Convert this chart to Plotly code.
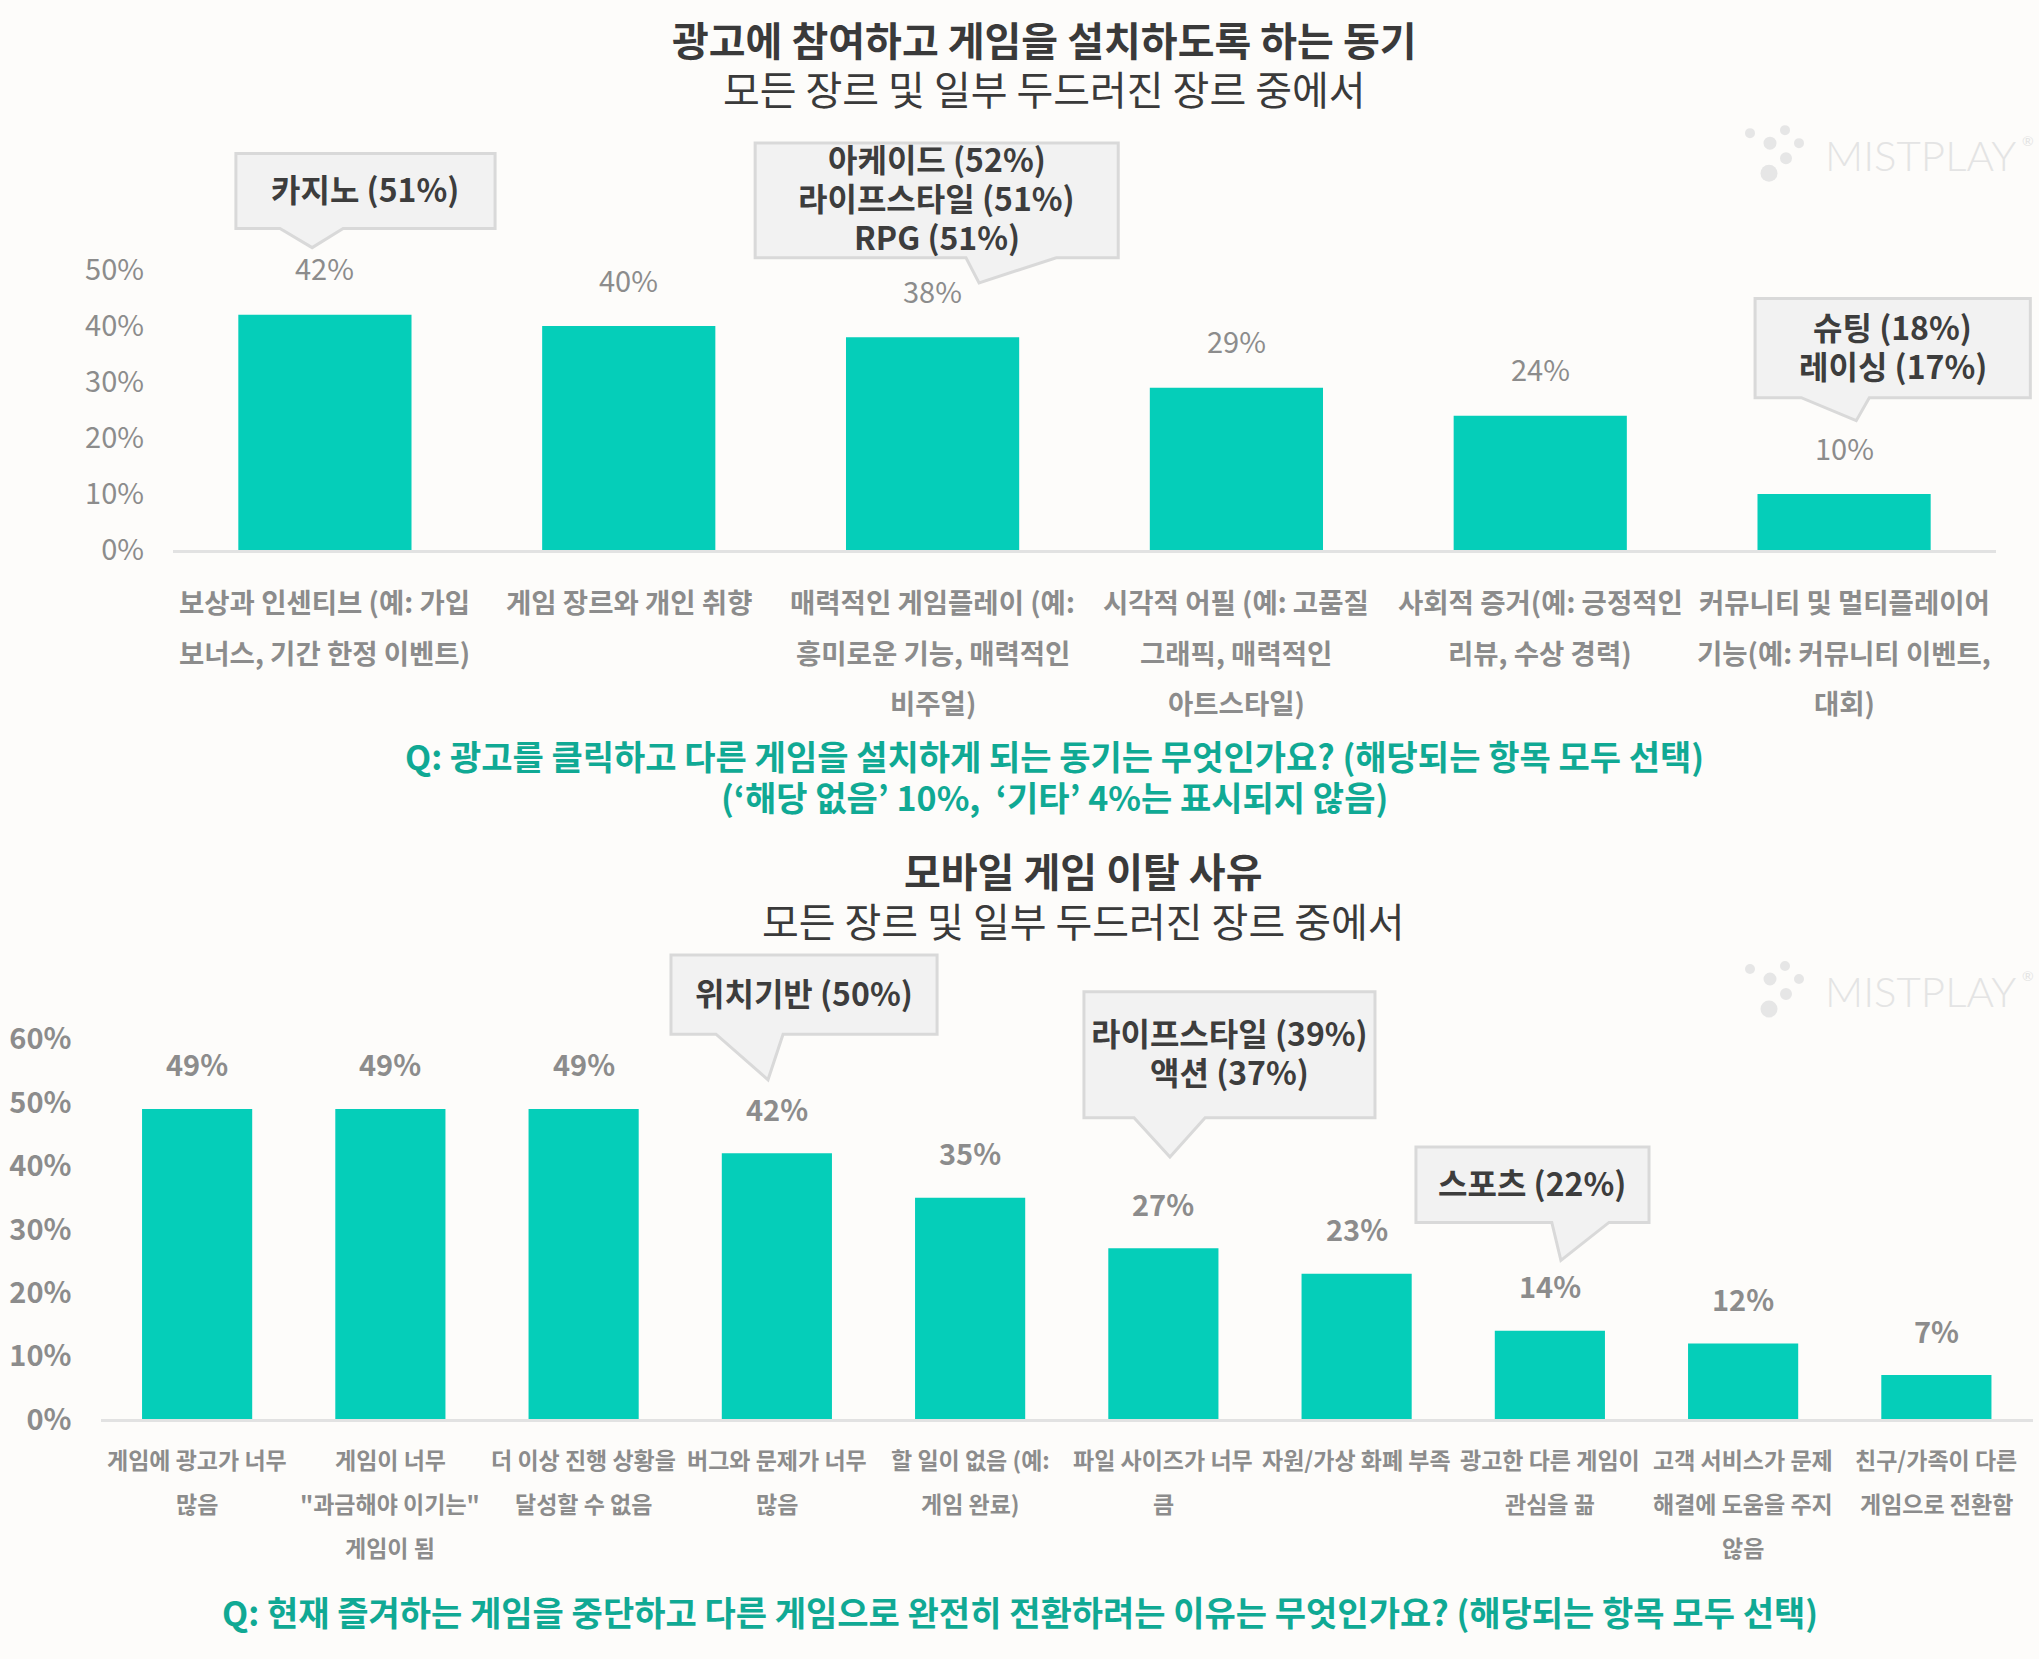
import plotly.graph_objects as go

# ---------------- data ----------------
top_categories = [
    "보상과 인센티브 (예: 가입<br>보너스, 기간 한정 이벤트)",
    "게임 장르와 개인 취향",
    "매력적인 게임플레이 (예:<br>흥미로운 기능, 매력적인<br>비주얼)",
    "시각적 어필 (예: 고품질<br>그래픽, 매력적인<br>아트스타일)",
    "사회적 증거(예: 긍정적인<br>리뷰, 수상 경력)",
    "커뮤니티 및 멀티플레이어<br>기능(예: 커뮤니티 이벤트,<br>대회)",
]
top_values = [42, 40, 38, 29, 24, 10]
top_ticks = [0, 10, 20, 30, 40, 50]
top_title = "광고에 참여하고 게임을 설치하도록 하는 동기"
top_subtitle = "모든 장르 및 일부 두드러진 장르 중에서"
top_question = ["Q: 광고를 클릭하고 다른 게임을 설치하게 되는 동기는 무엇인가요? (해당되는 항목 모두 선택)",
                "(‘해당 없음’ 10%,\u00a0 ‘기타’ 4%는 표시되지 않음)"]
top_callout_texts = [["카지노 (51%)"],
                     ["아케이드 (52%)", "라이프스타일 (51%)", "RPG (51%)"],
                     ["슈팅 (18%)", "레이싱 (17%)"]]

bottom_categories = [
    "게임에 광고가 너무<br>많음",
    "게임이 너무<br>\"과금해야 이기는\"<br>게임이 됨",
    "더 이상 진행 상황을<br>달성할 수 없음",
    "버그와 문제가 너무<br>많음",
    "할 일이 없음 (예:<br>게임 완료)",
    "파일 사이즈가 너무<br>큼",
    "자원/가상 화폐 부족",
    "광고한 다른 게임이<br>관심을 끎",
    "고객 서비스가 문제<br>해결에 도움을 주지<br>않음",
    "친구/가족이 다른<br>게임으로 전환함",
]
bottom_values = [49, 49, 49, 42, 35, 27, 23, 14, 12, 7]
bottom_ticks = [0, 10, 20, 30, 40, 50, 60]
bottom_title = "모바일 게임 이탈 사유"
bottom_subtitle = "모든 장르 및 일부 두드러진 장르 중에서"
bottom_question = ["Q: 현재 즐겨하는 게임을 중단하고 다른 게임으로 완전히 전환하려는 이유는 무엇인가요? (해당되는 항목 모두 선택)"]
bottom_callout_texts = [["위치기반 (50%)"],
                        ["라이프스타일 (39%)", "액션 (37%)"],
                        ["스포츠 (22%)"]]

# ---------------- layout constants ----------------
W, H = 2039, 1659
SY = 1.012       # vertical compensation for the capture
TEXT_DY = 3      # lift glyphs so their visual centre hits the target
FONT = "Noto Sans CJK KR"
BAR = "#05CEB9"
TEAL_TEXT = "#10A994"
GRAY = "#8c8c8c"
DARK = "#3a3a3a"
BG = "#fdfcfa"

top_panel = dict(X0=173, X1=1996, Y0=549.5, PPU=5.595, YMAX=60, n=len(top_categories),
                 xa="x", ya="y", lab1=53.5, labstep=50, labsize=27.5, valshift=44,
                 valweight="normal", tickweight="normal", title_xy=(1044, 42), sub_xy=(1044, 91),
                 q_y=758, q_x=1054, q_step=41, logo_dy=0)
bottom_panel = dict(X0=100.5, X1=2033, Y0=1418, PPU=6.33, YMAX=64, n=len(bottom_categories),
                    xa="x2", ya="y2", lab1=42, labstep=43.5, labsize=23, valshift=42,
                    valweight="bold", tickweight="bold", title_xy=(1083, 872), sub_xy=(1083, 922),
                    q_y=1613, q_x=1020, q_step=41, logo_dy=835)

# callout geometry in data units: box (x0, x1, ytop, ybottom), pointer (base left, base right, tip x, tip y)
top_callout_geom = [
    ((-0.293, 0.560, 70.8, 57.4), (-0.148, 0.060, -0.042, 54.0)),
    ((1.416, 2.611, 72.7, 52.2), (2.110, 2.407, 2.153, 47.7)),
    ((4.707, 5.613, 44.9, 27.2), (4.859, 5.083, 5.040, 23.1)),
]
bottom_callout_geom = [
    ((2.452, 3.829, 73.3, 60.8), (2.685, 3.032, 2.954, 53.6)),
    ((4.589, 6.095, 67.5, 47.6), (4.848, 5.216, 5.034, 41.4)),
    ((6.307, 7.513, 43.0, 31.1), (7.010, 7.306, 7.057, 25.1)),
]
CALLOUT_LINE = 39


def py2paper(ypix):
    return (H - ypix * SY) / H


def to_paper(p, xd, yd):
    xpix = p["X0"] + (xd + 0.5) * (p["X1"] - p["X0"]) / p["n"]
    ypix = p["Y0"] - yd * p["PPU"]
    return xpix / W, py2paper(ypix)


fig = go.Figure()
annotations = []
shapes = []


def build(p, cats, vals, ticks, title, subtitle, question, ctexts, cgeom):
    fig.add_trace(go.Bar(x=cats, y=vals, width=0.57, marker=dict(color=BAR, line=dict(width=0)),
                         xaxis=p["xa"], yaxis=p["ya"], hoverinfo="skip"))
    # value labels
    for c, v in zip(cats, vals):
        annotations.append(dict(x=c, y=v, xref=p["xa"], yref=p["ya"], text=f"{v}%", showarrow=False,
                                yanchor="middle", yshift=p["valshift"] * SY + TEXT_DY,
                                font=dict(family=FONT, size=29, color=GRAY, weight=p["valweight"])))
    # category labels, one annotation per line
    for c in cats:
        for j, line in enumerate(c.split("<br>")):
            annotations.append(dict(x=c, y=0, xref=p["xa"], yref=p["ya"], text=line, showarrow=False,
                                    yanchor="middle",
                                    yshift=-(p["lab1"] + j * p["labstep"]) * SY + TEXT_DY,
                                    font=dict(family=FONT, size=p["labsize"], color=GRAY, weight="bold")))
    # titles
    annotations.append(dict(x=p["title_xy"][0] / W, y=py2paper(p["title_xy"][1]), xref="paper", yref="paper",
                            text=title, showarrow=False, xanchor="center", yanchor="middle",
                            yshift=TEXT_DY,
                            font=dict(family=FONT, size=40, color=DARK, weight="bold")))
    annotations.append(dict(x=p["sub_xy"][0] / W, y=py2paper(p["sub_xy"][1]), xref="paper", yref="paper",
                            text=subtitle, showarrow=False, xanchor="center", yanchor="middle",
                            yshift=TEXT_DY,
                            font=dict(family=FONT, size=40, color=DARK, weight="normal")))
    for j, qline in enumerate(question):
        annotations.append(dict(x=p["q_x"] / W, y=py2paper(p["q_y"] + j * p["q_step"]),
                                xref="paper", yref="paper", yshift=TEXT_DY,
                                text=qline, showarrow=False, xanchor="center", yanchor="middle",
                                font=dict(family=FONT, size=34, color=TEAL_TEXT, weight="bold")))
    # callouts
    for lines, (box, ptr) in zip(ctexts, cgeom):
        x0, x1, yt, yb = box
        bl, br, tx, ty = ptr
        pts = [(x0, yt), (x1, yt), (x1, yb), (br, yb), (tx, ty), (bl, yb), (x0, yb)]
        pp = [to_paper(p, a, b) for a, b in pts]
        path = "M " + " L ".join(f"{a:.5f},{b:.5f}" for a, b in pp) + " Z"
        shapes.append(dict(type="path", path=path, xref="paper", yref="paper",
                           fillcolor="#f2f2f2", line=dict(color="#d9d9d9", width=3), layer="above"))
        cx = (p["X0"] + ((x0 + x1) / 2 + 0.5) * (p["X1"] - p["X0"]) / p["n"]) / W
        cy_pix = p["Y0"] - (yt + yb) / 2 * p["PPU"]
        nl = len(lines)
        for j, line in enumerate(lines):
            ly = cy_pix + (j - (nl - 1) / 2) * CALLOUT_LINE
            annotations.append(dict(x=cx, y=py2paper(ly), xref="paper", yref="paper", text=line,
                                    showarrow=False, xanchor="center", yanchor="middle", yshift=TEXT_DY,
                                    font=dict(family=FONT, size=32, color="#3d3d3d", weight="bold")))
    # watermark logo
    dy = p["logo_dy"]
    for cx, cy, r in [(1750, 133, 5), (1785, 130, 5), (1770, 143, 6.5), (1799, 143, 5),
                      (1786, 158, 6), (1769, 173, 8.5)]:
        shapes.append(dict(type="circle", xref="paper", yref="paper",
                           x0=(cx - r) / W, x1=(cx + r) / W,
                           y0=py2paper(cy + dy + r), y1=py2paper(cy + dy - r),
                           fillcolor="#e6e6e6", line=dict(width=0), layer="below"))
    annotations.append(dict(x=1823 / W, y=py2paper(155 + dy), xref="paper", yref="paper",
                            text="MISTPLAY", showarrow=False, xanchor="left", yanchor="middle",
                            font=dict(family="Lato", size=42, color="#e4e4e4", weight=300)))
    annotations.append(dict(x=2020 / W, y=py2paper(140 + dy), xref="paper", yref="paper",
                            text="®", showarrow=False, xanchor="left", yanchor="middle",
                            font=dict(family="Lato", size=14, color="#e4e4e4")))

    ytop = p["Y0"] - p["YMAX"] * p["PPU"]
    xaxis = dict(domain=[p["X0"] / W, p["X1"] / W], range=[-0.5, p["n"] - 0.5], type="category",
                 anchor=p["ya"], showticklabels=False, showgrid=False, zeroline=False,
                 showline=True, linecolor="#e2e2e2", linewidth=3, ticks="", fixedrange=True)
    yaxis = dict(domain=[py2paper(p["Y0"]), py2paper(ytop)], range=[0, p["YMAX"]],
                 anchor=p["xa"], tickmode="array", tickvals=ticks, ticktext=[f"{t}%" for t in ticks],
                 showgrid=False, zeroline=False,
                 showline=False, ticks="", ticklabelstandoff=28, fixedrange=True,
                 tickfont=dict(family=FONT, size=29, color=GRAY, weight=p["tickweight"]))
    return xaxis, yaxis


xa1, ya1 = build(top_panel, top_categories, top_values, top_ticks, top_title, top_subtitle,
                 top_question, top_callout_texts, top_callout_geom)
xa2, ya2 = build(bottom_panel, bottom_categories, bottom_values, bottom_ticks, bottom_title,
                 bottom_subtitle, bottom_question, bottom_callout_texts, bottom_callout_geom)

fig.update_layout(
    width=W, height=H, autosize=False,
    margin=dict(l=0, r=0, t=0, b=0, pad=0),
    paper_bgcolor=BG, plot_bgcolor=BG,
    showlegend=False, hovermode=False,
    xaxis=xa1, yaxis=ya1, xaxis2=xa2, yaxis2=ya2,
    annotations=annotations, shapes=shapes,
    font=dict(family=FONT),
)

post = (
    "var d=document.documentElement, b=document.body;"
    "d.style.margin='0'; d.style.padding='0'; d.style.overflow='hidden';"
    "b.style.margin='0'; b.style.padding='0'; b.style.overflow='hidden';"
    "b.style.background='%s';" % BG
)
fig.write_html("out.html", config={"displayModeBar": False}, post_script=post)
